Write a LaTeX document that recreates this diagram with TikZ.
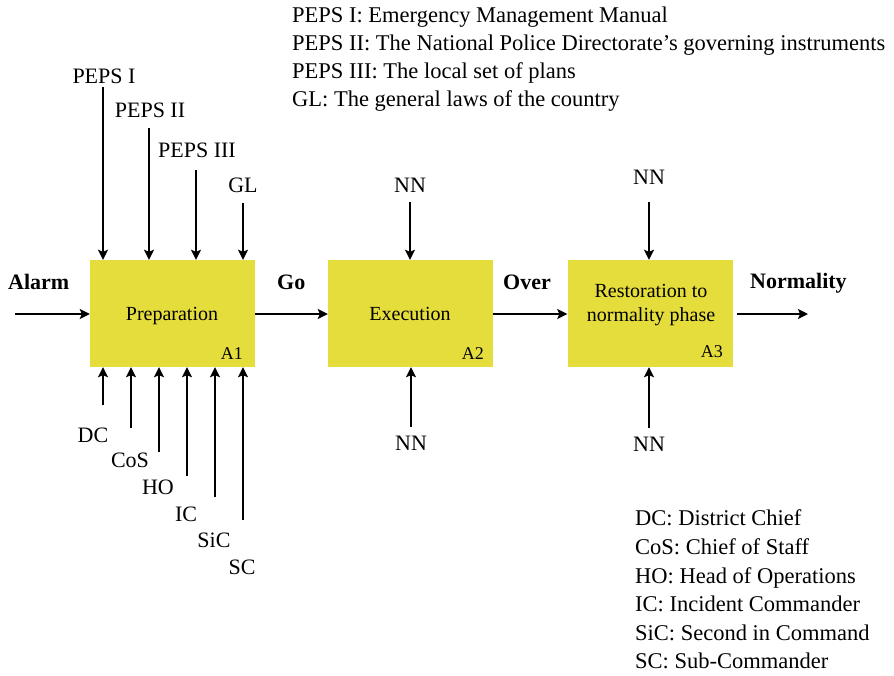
\documentclass[tikz,border=0pt]{standalone}
\usepackage{fontspec}
\setmainfont{Liberation Serif}
\usetikzlibrary{arrows.meta}
\definecolor{boxyellow}{RGB}{229,221,60}
\begin{document}
\begin{tikzpicture}[x=1pt,y=-1pt,
  txt/.style={font=\fontsize{22}{26}\selectfont, inner sep=0pt, anchor=base},
  legend/.style={font=\fontsize{22.5}{27}\selectfont, inner sep=0pt, anchor=base west},
  flow/.style={font=\bfseries\fontsize{22}{26}\selectfont, inner sep=0pt, anchor=base west},
  inbox/.style={font=\fontsize{20}{24}\selectfont, inner sep=0pt, anchor=base},
  phase/.style={fill=boxyellow, draw=none, minimum width=165pt, minimum height=107pt, inner sep=0pt},
  tag/.style={font=\fontsize{18}{20}\selectfont, inner sep=0pt, anchor=base east},
  arr/.style={line width=2pt, -{Stealth[length=10pt,width=10pt,inset=2pt]}}]
\useasboundingbox (0,0) rectangle (894,675);

% activity boxes
\node[phase] (a1) at (172.5,313.5) {};
\node[phase] (a2) at (410.5,313.5) {};
\node[phase] (a3) at (650,313.5) {};
\node[inbox] (t1) at (172,320) {Preparation};
\node[inbox] (t2) at (410,320) {Execution};
\node[inbox] (t3a) at (651,297) {Restoration to};
\node[inbox] (t3b) at (651,321) {normality phase};
\node[tag] (n1) at (243,359) {A1};
\node[tag] (n2) at (484,359) {A2};
\node[tag] (n3) at (723,357) {A3};

% main flow
\node[flow] (alarm) at (8,289) {Alarm};
\node[flow] (go) at (277,289) {Go};
\node[flow] (over) at (503,289) {Over};
\node[flow] (norm) at (750,288) {Normality};
\coordinate (alarmS) at (15,314);
\coordinate (normE) at (808,314);
\draw[arr] (alarmS) -- (alarmS -| a1.west);
\draw[arr] (a1.east |- alarmS) -- (a2.west |- alarmS);
\draw[arr] (a2.east |- alarmS) -- (a3.west |- alarmS);
\draw[arr] ([xshift=4pt]a3.east |- normE) -- (normE);

% controls of A1
\node[txt] (peps1) at (104,83) {PEPS I};
\node[txt] (peps2) at (150,117) {PEPS II};
\node[txt] (peps3) at (197,157) {PEPS III};
\node[txt] (gl) at (243,192) {GL};
\coordinate (p1s) at (103,87);
\coordinate (p2s) at (149,128);
\coordinate (p3s) at (196,170);
\coordinate (gls) at (243,203);
\foreach \c in {p1s,p2s,p3s,gls} \draw[arr] (\c) -- (\c |- a1.north);

% mechanisms of A1
\node[txt] (dc) at (93,442) {DC};
\node[txt] (cos) at (130,467) {CoS};
\node[txt] (ho) at (158,494) {HO};
\node[txt] (ic) at (186,521) {IC};
\node[txt] (sic) at (214,547) {SiC};
\node[txt] (sc) at (242,574) {SC};
\coordinate (dcs) at (103,405);
\coordinate (coss) at (131,428);
\coordinate (hos) at (159,452);
\coordinate (ics) at (187,476);
\coordinate (sics) at (215,497);
\coordinate (scs) at (243,520);
\foreach \c in {dcs,coss,hos,ics,sics,scs} \draw[arr] (\c) -- (\c |- a1.south);

% controls and mechanisms of A2 and A3
\node[txt] (nn2t) at (410,192) {NN};
\node[txt] (nn2b) at (411,450) {NN};
\node[txt] (nn3t) at (649,184) {NN};
\node[txt] (nn3b) at (649,451) {NN};
\coordinate (nn2ts) at (410,202);
\coordinate (nn2bs) at (411,427);
\coordinate (nn3ts) at (649,202);
\coordinate (nn3bs) at (649,428);
\draw[arr] (nn2ts) -- (nn2ts |- a2.north);
\draw[arr] (nn2bs) -- (nn2bs |- a2.south);
\draw[arr] (nn3ts) -- (nn3ts |- a3.north);
\draw[arr] (nn3bs) -- (nn3bs |- a3.south);

% legends
\node[legend] (l1) at (292,22) {PEPS I: Emergency Management Manual};
\node[legend] (l2) at (292,50) {PEPS II: The National Police Directorate’s governing instruments};
\node[legend] (l3) at (292,78) {PEPS III: The local set of plans};
\node[legend] (l4) at (292,106) {GL: The general laws of the country};

\node[legend] (m1) at (635,525) {DC: District Chief};
\node[legend] (m2) at (635,554) {CoS: Chief of Staff};
\node[legend] (m3) at (635,583) {HO: Head of Operations};
\node[legend] (m4) at (635,611) {IC: Incident Commander};
\node[legend] (m5) at (635,640) {SiC: Second in Command};
\node[legend] (m6) at (635,668) {SC: Sub-Commander};
\end{tikzpicture}
\end{document}
